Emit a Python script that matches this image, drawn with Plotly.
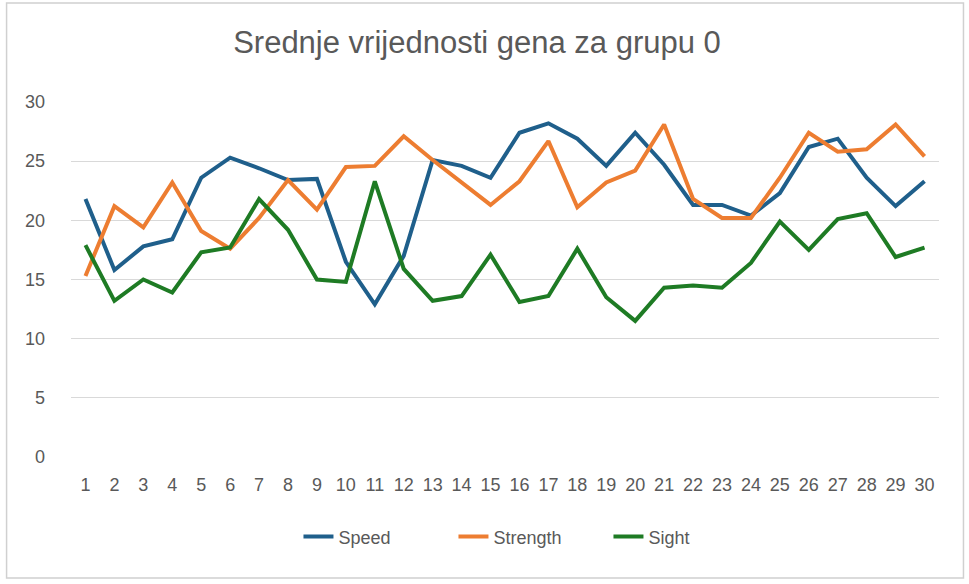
import plotly.graph_objects as go

categories = list(range(1, 31))
speed = [21.8, 15.8, 17.8, 18.4, 23.6, 25.3, 24.4, 23.4, 23.5, 16.5,
         12.9, 17.0, 25.1, 24.6, 23.6, 27.4, 28.2, 26.9, 24.6, 27.4,
         24.7, 21.3, 21.3, 20.4, 22.3, 26.2, 26.9, 23.6, 21.2, 23.3]
strength = [15.3, 21.2, 19.4, 23.2, 19.1, 17.6, 20.2, 23.4, 20.9, 24.5,
            24.6, 27.1, 25.1, 23.2, 21.3, 23.3, 26.7, 21.1, 23.2, 24.2,
            28.1, 21.8, 20.2, 20.2, 23.6, 27.4, 25.8, 26.0, 28.1, 25.4]
sight = [17.9, 13.2, 15.0, 13.9, 17.3, 17.7, 21.8, 19.2, 15.0, 14.8,
         23.3, 15.9, 13.2, 13.6, 17.1, 13.1, 13.6, 17.6, 13.5, 11.5,
         14.3, 14.5, 14.3, 16.4, 19.9, 17.5, 20.1, 20.6, 16.9, 17.7]
y_ticks = [0, 5, 10, 15, 20, 25, 30]
title = "Srednje vrijednosti gena za grupu 0"

FONT = "Liberation Sans, Arial, sans-serif"
GREY = "#595959"

fig = go.Figure()
for name, vals, color in [("Speed", speed, "#1F5F8B"),
                          ("Strength", strength, "#ED7D31"),
                          ("Sight", sight, "#1E7B24")]:
    fig.add_trace(go.Scatter(x=categories, y=vals, name=name, mode="lines",
                             line=dict(color=color, width=4)))

fig.update_layout(
    width=969, height=584,
    margin=dict(l=70.5, r=29.5, t=102, b=127, autoexpand=False),
    paper_bgcolor="white", plot_bgcolor="white",
    title=dict(text=title, x=477 / 969, xanchor="center", xref="container",
               y=1 - 42 / 584, yanchor="middle",
               font=dict(family=FONT, size=31, color=GREY)),
    font=dict(family=FONT, color=GREY),
    showlegend=True,
    legend=dict(orientation="h", x=(531 - 70.5) / 869, xanchor="center",
                y=-0.225, yanchor="middle",
                font=dict(family=FONT, size=18, color=GREY),
                entrywidth=110, tracegroupgap=0),
    xaxis=dict(range=[0.5, 30.5], tickmode="array", tickvals=categories,
               ticktext=[str(c) for c in categories], showgrid=False,
               zeroline=False, showline=False, tickangle=0,
               tickfont=dict(family=FONT, size=18, color=GREY),
               ticklabelstandoff=15),
    yaxis=dict(range=[0, 30], tickmode="array", tickvals=y_ticks,
               showgrid=True, gridcolor="#D9D9D9", gridwidth=1,
               zeroline=False, showline=False,
               tickfont=dict(family=FONT, size=18, color=GREY),
               ticklabelstandoff=25),
)

fig.add_shape(type="rect", xref="paper", yref="paper",
              x0=(6 - 70.5) / 869, x1=(964 - 70.5) / 869,
              y0=(457 - 578) / 355, y1=(457 - 3) / 355,
              line=dict(color="#D0D0D0", width=1.5), fillcolor="rgba(0,0,0,0)",
              layer="below")

fig.write_html("out.html", config={"displayModeBar": False},
               post_script="document.body.style.margin='0';")
